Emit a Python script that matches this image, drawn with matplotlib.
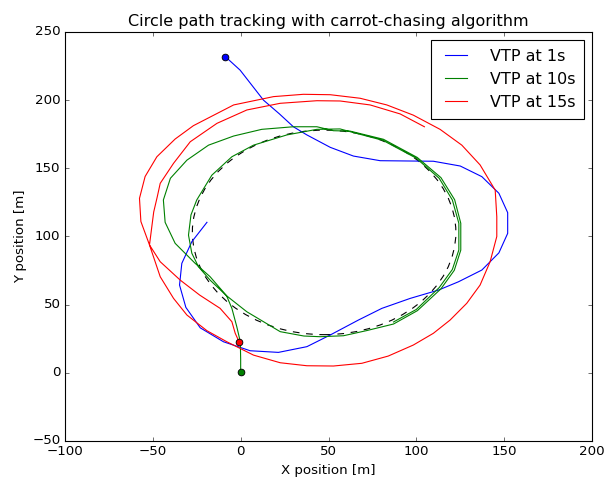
import numpy as np
import matplotlib
matplotlib.use("Agg")
import matplotlib.pyplot as plt
from matplotlib.patches import Circle

plt.style.use("classic")

# reference circle
circle_center = (47.5, 103.0)
circle_radius = 75.0

# VTP at 1s
x_1s = [-8.8, -0.3, 13, 22, 30, 37.7, 51, 64.2, 79.4, 109.7, 125, 137.3, 147, 152, 152,
        147, 137.3, 124, 112.6, 96.5, 80.4, 67, 50.9, 37.7, 21.5, 5.4, -9.8, -23,
        -31.2, -34.8, -33.5, -27.8, -19.2]
y_1s = [232, 222, 200, 190, 180.5, 174.5, 165.4, 159, 155.6, 155.2, 151.7, 143.9, 131.7,
        117.5, 102.3, 88, 75.4, 66.8, 60.7, 54.6, 47.3, 38.7, 27.7, 19.2, 15, 16.2,
        22.8, 33, 48, 64.4, 80.3, 96.2, 110.4]

# VTP at 10s
x_10s = [0, 0, -0.2, -2.2, -5, -8, -17.4, -25.9, -37.3, -43, -44, -40, -30.6, -18.3,
         -4, 12, 30, 43.4, 52.8, 62.3, 81.3, 100.5, 114, 121.8, 125.3, 125.3, 121.6,
         114, 100.6, 87, 71.8, 58.5, 45.2, 36, 22.5, 3.5, -8, -17.4, -24, -27.8,
         -29.7, -28.3, -25, -16.4, -5, 7.3, 26.3, 43.4, 56.6, 62, 81, 100, 113,
         120.5, 124.2, 124.2, 120.5, 113, 100, 87]
y_10s = [0.6, 10, 22.8, 33.8, 47.3, 56.5, 70.5, 80.3, 95, 110.4, 126.8, 142.7, 156,
         167, 173.7, 178.6, 180.5, 180.5, 177.6, 177.3, 171.3, 158, 143.2, 127,
         109.7, 90, 75.2, 61.6, 45.6, 35.8, 31, 27.2, 26.5, 27, 30.2, 44.8, 56.5,
         68, 77.8, 87.7, 101, 115.8, 126.8, 145, 158.5, 167, 174.5, 178.6, 178.9,
         177, 170.5, 157.4, 142.7, 126.8, 109.7, 90.1, 75.8, 62.5, 46.5, 37.3]

# VTP at 15s
x_15s = [-0.8, -3.1, -5, -11.7, -23.3, -34.4, -45.8, -51.9, -56.8, -57.6, -54.4, -47.7,
         -37.3, -26.9, -4, 18.7, 35.7, 51, 68, 83.2, 98.3, 113.5, 125.9, 136.3, 144.9,
         145.8, 145.8, 142, 136.3, 128.7, 119.2, 109.7, 98.3, 84, 69, 52.8, 37.7,
         22.5, 7.3, -7.9, -19.2, -30.6, -38.2, -45.8, -51.9, -50.5, -49.5, -47.5,
         -45.8, -38.2, -28.7, -13.5, 3.5, 22.5, 43.4, 56.6, 73.7, 90.8, 104.6]
y_15s = [22.5, 29, 37.5, 47.3, 57, 68, 81.5, 93.8, 111, 128, 144, 158.5, 171.5, 181.3,
         196.5, 202.6, 204.3, 204, 201.4, 196.5, 189, 178.6, 167, 152.5, 134, 114.5,
         100, 81.5, 64.4, 51, 38.7, 29, 20.4, 12.3, 7, 5, 5.2, 7.4, 13, 22.8, 30.9,
         42.4, 54.6, 70.5, 93.8, 108, 118, 129, 139, 153.7, 169.5, 183, 192.8, 197.7,
         199.6, 199.4, 196.5, 189.9, 180.5]

fig = plt.figure(figsize=(607 / 80, 479 / 80), dpi=80, facecolor="white")
ax = fig.add_axes([65 / 607, 38 / 479, 527 / 607, 409 / 479])

ax.add_patch(Circle(circle_center, circle_radius, fill=False, ec="k", ls="--", lw=1))

ax.plot(x_1s, y_1s, "b", label="VTP at 1s")
ax.plot(x_10s, y_10s, "g", label="VTP at 10s")
ax.plot(x_15s, y_15s, "r", label="VTP at 15s")

ax.plot(x_1s[0], y_1s[0], "bo", mec="k", ms=6, mew=0.8)
ax.plot(x_10s[0], y_10s[0], "go", mec="k", ms=6, mew=0.8)
ax.plot(x_15s[0], y_15s[0], "ro", mec="k", ms=6, mew=0.8)

ax.set_xlim(-100, 200)
ax.set_ylim(-50, 250)
ax.set_xticks(np.arange(-100, 201, 50))
ax.set_yticks(np.arange(-50, 251, 50))
ax.set_xlabel("X position [m]")
ax.set_ylabel("Y position [m]")
ax.set_title("Circle path tracking with carrot-chasing algorithm")
ax.legend(loc="upper right", borderpad=0.55, handletextpad=1.1)

fig.savefig("out.png", dpi=80, facecolor="white")
